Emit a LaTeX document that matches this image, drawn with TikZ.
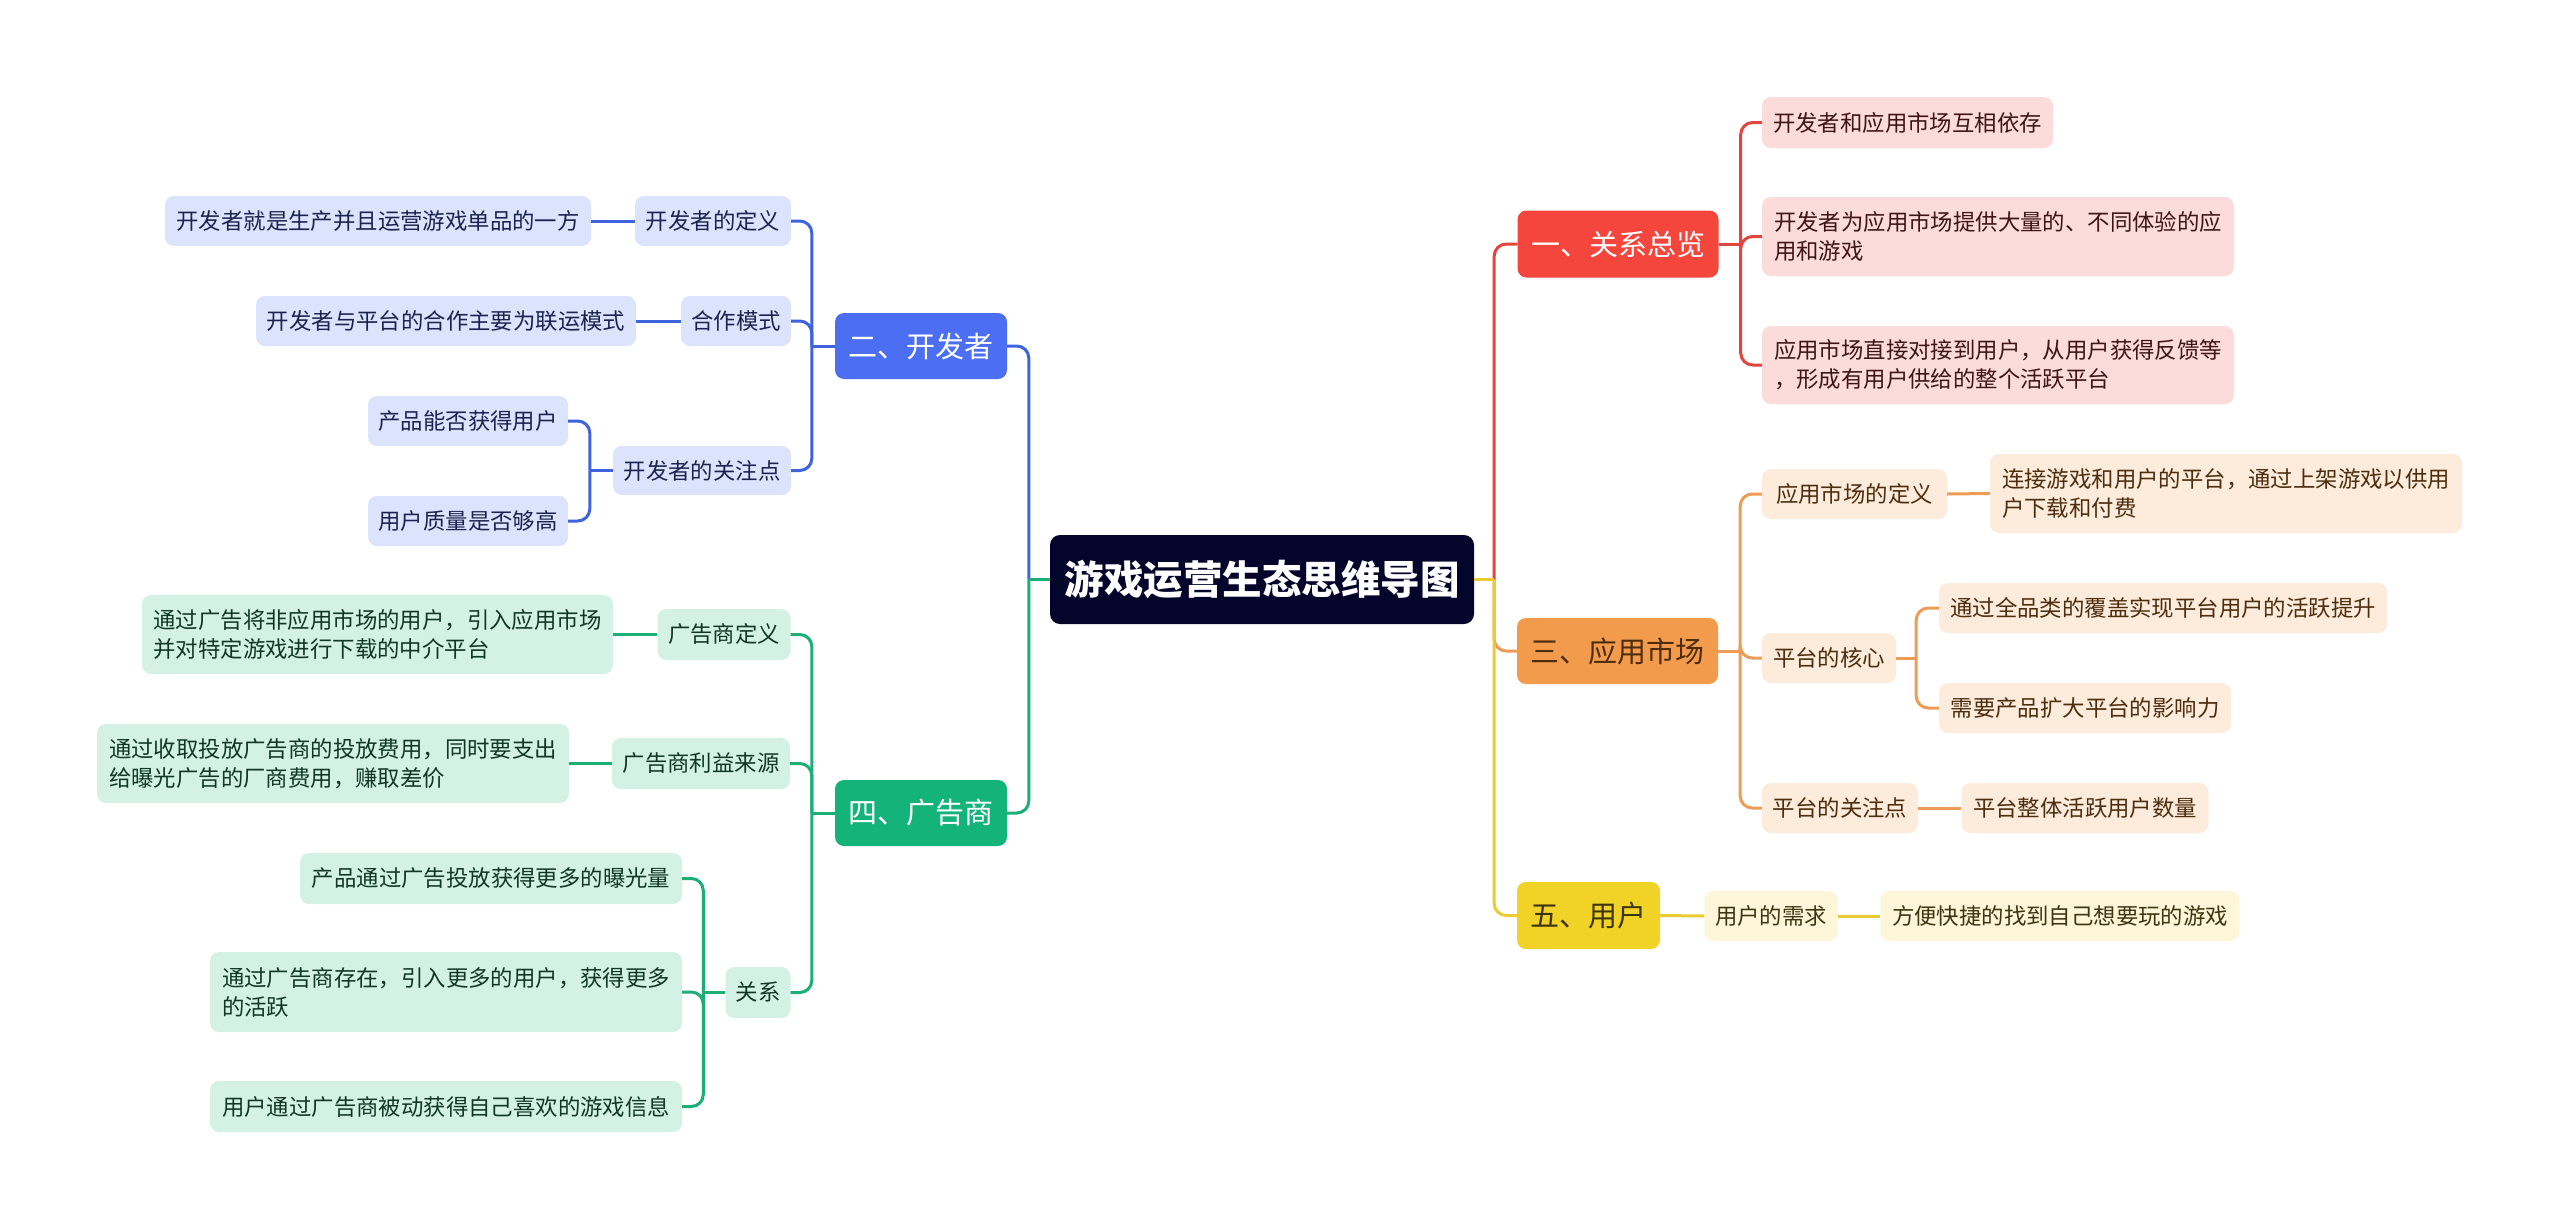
\documentclass[tikz,border=0pt]{standalone}
\usepackage{fontspec}
\setmainfont{Noto Sans CJK SC}
\definecolor{cTitle}{HTML}{04052B}
\definecolor{cR}{HTML}{F4463D}\definecolor{cRl}{HTML}{FCDCDB}\definecolor{cRline}{HTML}{E0463E}\definecolor{cRtext}{HTML}{3E1414}
\definecolor{cO}{HTML}{F39B4D}\definecolor{cOl}{HTML}{FDEBDB}\definecolor{cOline}{HTML}{EE9C55}\definecolor{cOtext}{HTML}{4D2D0E}
\definecolor{cY}{HTML}{F1D327}\definecolor{cYl}{HTML}{FEF6D8}\definecolor{cYline}{HTML}{EACB32}\definecolor{cYtext}{HTML}{3D3510}
\definecolor{cB}{HTML}{4C6EF2}\definecolor{cBl}{HTML}{DCE3FC}\definecolor{cBline}{HTML}{3F62DD}\definecolor{cBtext}{HTML}{1A2350}
\definecolor{cG}{HTML}{14B37A}\definecolor{cGl}{HTML}{D3F2E5}\definecolor{cGline}{HTML}{1CAF75}\definecolor{cGtext}{HTML}{10362A}
\tikzset{
  base/.style={rounded corners=9pt, inner sep=0pt, align=left, font=\fontsize{22.4}{29}\selectfont},
  sz/.style 2 args={minimum width=#1pt, minimum height=#2pt},
  title/.style={rounded corners=10pt, inner sep=0pt, fill=cTitle, text=white, font=\fontsize{39.5}{44}\selectfont\bfseries, minimum width=424pt, minimum height=89pt},
  mainbase/.style={base, font=\fontsize{29}{34}\selectfont},
  mainR/.style={mainbase, fill=cR, text=white},
  mainO/.style={mainbase, fill=cO, text=cOtext},
  mainY/.style={mainbase, fill=cY, text=cYtext},
  mainB/.style={mainbase, fill=cB, text=white},
  mainG/.style={mainbase, fill=cG, text=white},
  leafR/.style={base, fill=cRl, text=cRtext},
  leafO/.style={base, fill=cOl, text=cOtext},
  leafY/.style={base, fill=cYl, text=cYtext},
  leafB/.style={base, fill=cBl, text=cBtext},
  leafG/.style={base, fill=cGl, text=cGtext},
  lnbase/.style={line width=3pt, rounded corners=12pt},
  lR/.style={lnbase, draw=cRline},
  lO/.style={lnbase, draw=cOline},
  lY/.style={lnbase, draw=cYline},
  lB/.style={lnbase, draw=cBline},
  lG/.style={lnbase, draw=cGline},
}
\begin{document}
\begin{tikzpicture}[x=1pt,y=-1pt]
\useasboundingbox[fill=white] (0,0) rectangle (2560,1229);
% title
\node[title] (t) at (1262,579.5) {游戏运营生态思维导图};
% right: red
\node[mainR, sz={201}{67}] (n1) at (1618,244) {一、关系总览};
\node[leafR, sz={291}{51}] (r1) at (1907.5,122.5) {开发者和应用市场互相依存};
\node[leafR, sz={472}{79}] (r2) at (1998,236.5) {开发者为应用市场提供大量的、不同体验的应\\用和游戏};
\node[leafR, sz={472}{78}] (r3) at (1998,365) {应用市场直接对接到用户，从用户获得反馈等\\，形成有用户供给的整个活跃平台};
% right: orange
\node[mainO, sz={201}{66}] (n3) at (1617.5,651) {三、应用市场};
\node[leafO, sz={185}{50}] (o1) at (1854.5,494) {应用市场的定义};
\node[leafO, sz={472}{79}] (o1a) at (2226,493.5) {连接游戏和用户的平台，通过上架游戏以供用\\户下载和付费};
\node[leafO, sz={134}{50}] (o2) at (1829,658) {平台的核心};
\node[leafO, sz={448}{50}] (o2a) at (2163,608) {通过全品类的覆盖实现平台用户的活跃提升};
\node[leafO, sz={292}{50}] (o2b) at (2085,708) {需要产品扩大平台的影响力};
\node[leafO, sz={156}{50}] (o3) at (1840,808) {平台的关注点};
\node[leafO, sz={247}{50}] (o3a) at (2085,808) {平台整体活跃用户数量};
% right: yellow
\node[mainY, sz={143}{67}] (n5) at (1588.5,915.5) {五、用户};
\node[leafY, sz={133}{50}] (y1) at (1771,916) {用户的需求};
\node[leafY, sz={359}{50}] (y1a) at (2060,916) {方便快捷的找到自己想要玩的游戏};
% left: blue
\node[mainB, sz={172}{66}] (n2) at (921,346) {二、开发者};
\node[leafB, sz={156}{50}] (b1) at (713,221) {开发者的定义};
\node[leafB, sz={426}{50}] (b1a) at (378,221) {开发者就是生产并且运营游戏单品的一方};
\node[leafB, sz={110}{50}] (b2) at (736,321) {合作模式};
\node[leafB, sz={380}{50}] (b2a) at (446,321) {开发者与平台的合作主要为联运模式};
\node[leafB, sz={178}{49}] (b3) at (702,470.5) {开发者的关注点};
\node[leafB, sz={200}{50}] (b3a) at (468,421) {产品能否获得用户};
\node[leafB, sz={200}{50}] (b3b) at (468,521) {用户质量是否够高};
% left: green
\node[mainG, sz={172}{66}] (n4) at (921,813) {四、广告商};
\node[leafG, sz={133}{51}] (g1) at (724,634.5) {广告商定义};
\node[leafG, sz={471}{79}] (g1a) at (377.5,634.5) {通过广告将非应用市场的用户，引入应用市场\\并对特定游戏进行下载的中介平台};
\node[leafG, sz={178}{51}] (g2) at (701,763.5) {广告商利益来源};
\node[leafG, sz={472}{79}] (g2a) at (333,763.5) {通过收取投放广告商的投放费用，同时要支出\\给曝光广告的厂商费用，赚取差价};
\node[leafG, sz={65}{51}] (g3) at (758,992.5) {关系};
\node[leafG, sz={382}{51}] (g3a) at (491,878.5) {产品通过广告投放获得更多的曝光量};
\node[leafG, sz={472}{80}] (g3b) at (446,992) {通过广告商存在，引入更多的用户，获得更多\\的活跃};
\node[leafG, sz={472}{51}] (g3c) at (446,1106.5) {用户通过广告商被动获得自己喜欢的游戏信息};
% connectors root
\draw[lR] (t.east) ++(20,0) |- (n1.west);
\draw[lO] (t.east) ++(20,0) |- (n3.west);
\draw[lY] (t.east) ++(20,0) |- (n5.west);
\draw[lY] (t.east) -- ++(20,0);
\draw[lB] (t.west) ++(-21,0) |- (n2.east);
\draw[lG] (t.west) ++(-21,0) |- (n4.east);
\draw[lG] (t.west) -- ++(-21,0);
% red
\draw[lR] (n1.east) -- ++(22,0);
\draw[lR] (n1.east) ++(22,0) |- (r1.west);
\draw[lR] (n1.east) ++(22,0) |- (r2.west);
\draw[lR] (n1.east) ++(22,0) |- (r3.west);
% orange
\draw[lO] (n3.east) -- ++(22,0);
\draw[lO] (n3.east) ++(22,0) |- (o1.west);
\draw[lO] (n3.east) ++(22,0) |- (o2.west);
\draw[lO] (n3.east) ++(22,0) |- (o3.west);
\draw[lO] (o1.east) -- (o1a.west);
\draw[lO] (o2.east) -- ++(20,0);
\draw[lO] (o2.east) ++(20,0) |- (o2a.west);
\draw[lO] (o2.east) ++(20,0) |- (o2b.west);
\draw[lO] (o3.east) -- (o3a.west);
% yellow
\draw[lY] (n5.east) -- (y1.west);
\draw[lY] (y1.east) -- (y1a.west);
% blue
\draw[lB] (n2.west) -- ++(-23,0);
\draw[lB] (n2.west) ++(-23,0) |- (b1.east);
\draw[lB] (n2.west) ++(-23,0) |- (b2.east);
\draw[lB] (n2.west) ++(-23,0) |- (b3.east);
\draw[lB] (b1.west) -- (b1a.east);
\draw[lB] (b2.west) -- (b2a.east);
\draw[lB] (b3.west) -- ++(-23,0);
\draw[lB] (b3.west) ++(-23,0) |- (b3a.east);
\draw[lB] (b3.west) ++(-23,0) |- (b3b.east);
% green
\draw[lG] (n4.west) -- ++(-23,0);
\draw[lG] (n4.west) ++(-23,0) |- (g1.east);
\draw[lG] (n4.west) ++(-23,0) |- (g2.east);
\draw[lG] (n4.west) ++(-23,0) |- (g3.east);
\draw[lG] (g1.west) -- (g1a.east);
\draw[lG] (g2.west) -- (g2a.east);
\draw[lG] (g3.west) -- ++(-22,0);
\draw[lG] (g3.west) ++(-22,0) |- (g3a.east);
\draw[lG] (g3.west) ++(-22,0) |- (g3b.east);
\draw[lG] (g3.west) ++(-22,0) |- (g3c.east);
\end{tikzpicture}
\end{document}
